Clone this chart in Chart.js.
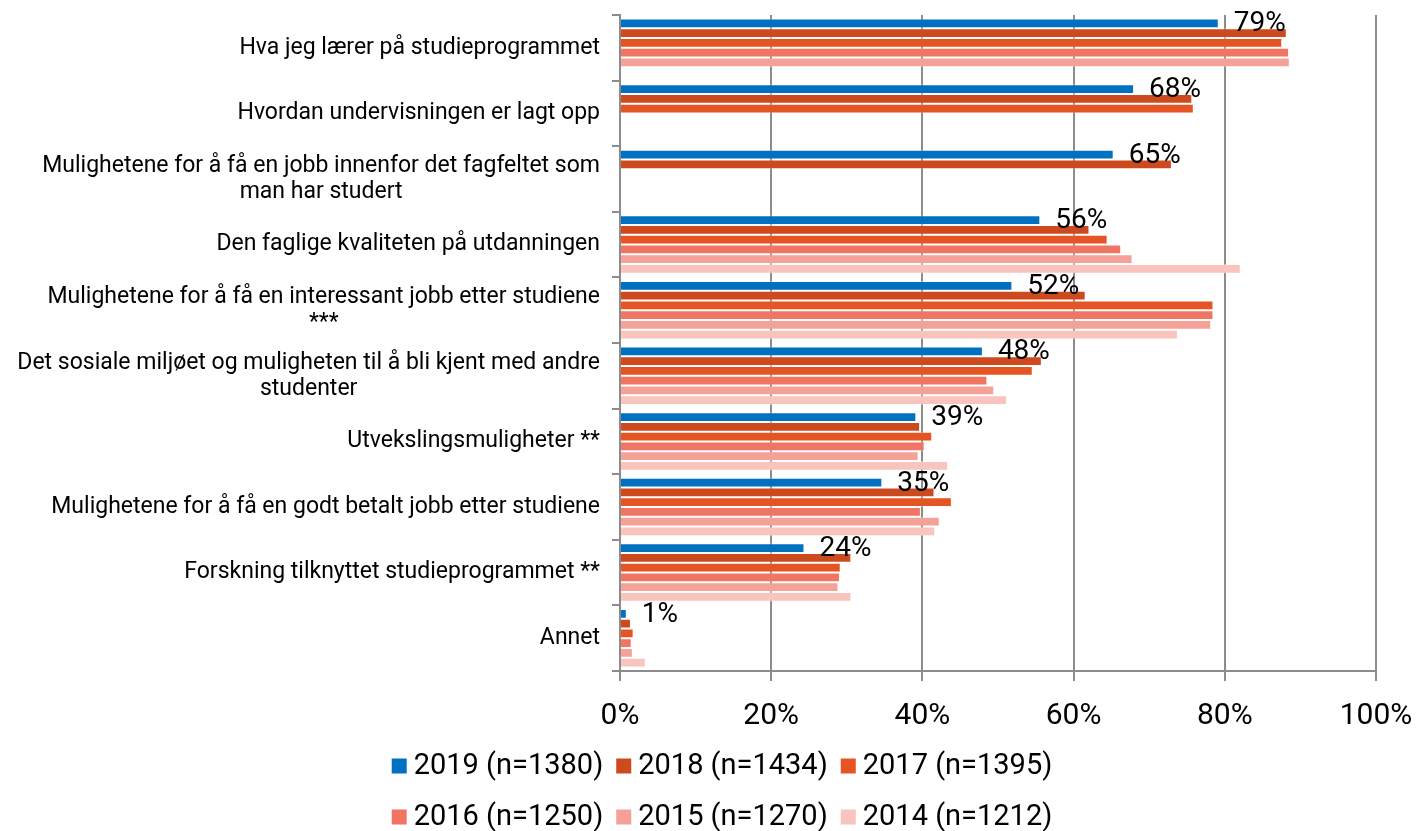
<!DOCTYPE html>
<html>
<head>
  <title>Hva er viktig for studentene</title>
  <script src="https://cdn.jsdelivr.net/npm/chart.js"></script>
  <style>
    body {
      margin: 0;
      background: #fff;
    }

    .chart-container {
      position: relative;
      width: 1418px;
      height: 831px;
    }
  </style>
</head>
<body>
  <div class="chart-container">
    <canvas id="studyChart"></canvas>
  </div>
  <script>
    // Categories (multi-line labels as arrays)
    const categories = [
      'Hva jeg lærer på studieprogrammet',
      'Hvordan undervisningen er lagt opp',
      ['Mulighetene for å få en jobb innenfor det fagfeltet som', 'man har studert'],
      'Den faglige kvaliteten på utdanningen',
      ['Mulighetene for å få en interessant jobb etter studiene', '***'],
      ['Det sosiale miljøet og muligheten til å bli kjent med andre', 'studenter'],
      'Utvekslingsmuligheter **',
      'Mulighetene for å få en godt betalt jobb etter studiene',
      'Forskning tilknyttet studieprogrammet **',
      'Annet'
    ];

    const seriesLabels = [
      '2019 (n=1380)', '2018 (n=1434)', '2017 (n=1395)',
      '2016 (n=1250)', '2015 (n=1270)', '2014 (n=1212)'
    ];

    // Values in percent (null = not asked that year)
    const v2019 = [79.2, 68.0, 65.3, 55.6, 51.9, 48.0, 39.2, 34.7, 24.4, 0.9];
    const v2018 = [88.2, 75.7, 73.0, 62.1, 61.6, 55.8, 39.7, 41.6, 30.6, 1.45];
    const v2017 = [87.6, 75.9, null, 64.5, 78.5, 54.6, 41.3, 43.9, 29.2, 1.8];
    const v2016 = [88.5, null, null, 66.3, 78.5, 48.6, 40.3, 39.8, 29.1, 1.55];
    const v2015 = [88.6, null, null, 67.8, 78.2, 49.5, 39.5, 42.3, 28.9, 1.7];
    const v2014 = [null, null, null, 82.1, 73.8, 51.2, 43.4, 41.7, 30.6, 3.4];

    const xTicks = [0, 20, 40, 60, 80, 100];

    const seriesColors = ['#0070c0', '#cd4a1f', '#e55423', '#f07663', '#f4a298', '#f8c4bd'];
    const gridColor = '#8c8c8c';
    const fontFamily = 'Roboto, "Liberation Sans", sans-serif';

    const allValues = [v2019, v2018, v2017, v2016, v2015, v2014];

    // Category labels: right-aligned block, lines centred within the block
    const categoryLabels = {
      id: 'categoryLabels',
      afterDraw(chart) {
        const ctx = chart.ctx;
        const yScale = chart.scales.y;
        ctx.save();
        ctx.font = '23px ' + fontFamily;
        ctx.fillStyle = '#000';
        ctx.textAlign = 'center';
        ctx.textBaseline = 'middle';
        categories.forEach((label, i) => {
          const lines = Array.isArray(label) ? label : [label];
          const w = Math.max(...lines.map(l => ctx.measureText(l).width));
          const cx = yScale.right - 20 - w / 2;
          const yc = yScale.getPixelForValue(i);
          const lh = 26;
          lines.forEach((l, k) => {
            ctx.fillText(l, cx, yc - (lines.length - 1) * lh / 2 + k * lh);
          });
        });
        ctx.restore();
      }
    };

    // Value labels for the 2019 series
    const valueLabels = {
      id: 'valueLabels',
      afterDatasetsDraw(chart) {
        const ctx = chart.ctx;
        const meta = chart.getDatasetMeta(0);
        ctx.save();
        ctx.font = '28px ' + fontFamily;
        ctx.fillStyle = '#000';
        ctx.textAlign = 'left';
        ctx.textBaseline = 'middle';
        meta.data.forEach((bar, i) => {
          ctx.fillText(Math.round(v2019[i]) + '%', bar.x + 15, bar.y + 1);
        });
        ctx.restore();
      }
    };

    // Legend in two rows of three
    const twoRowLegend = {
      id: 'twoRowLegend',
      afterDraw(chart) {
        const ctx = chart.ctx;
        ctx.save();
        ctx.font = '29px ' + fontFamily;
        ctx.textBaseline = 'middle';
        ctx.textAlign = 'left';
        const box = 15, gap = 7, spacing = 13;
        const rows = [[0, 1, 2], [3, 4, 5]];
        const rowY = [chart.height - 65, chart.height - 14];
        rows.forEach((row, r) => {
          const widths = row.map(i => box + gap + ctx.measureText(seriesLabels[i]).width);
          const total = widths.reduce((a, b) => a + b, 0) + spacing * (row.length - 1);
          let x = 722 - total / 2;
          row.forEach((i, k) => {
            ctx.fillStyle = seriesColors[i];
            ctx.fillRect(x, rowY[r] - box / 2, box, box);
            ctx.fillStyle = '#000';
            ctx.fillText(seriesLabels[i], x + box + gap, rowY[r] + 1);
            x += widths[k] + spacing;
          });
        });
        ctx.restore();
      }
    };

    function drawChart() {
      const ctx = document.getElementById('studyChart').getContext('2d');

      new Chart(ctx, {
        type: 'bar',
        data: {
          labels: categories,
          datasets: allValues.map((vals, i) => ({
            label: seriesLabels[i],
            data: vals,
            backgroundColor: seriesColors[i],
            borderColor: 'rgba(255,255,255,0.35)',
            borderWidth: 1,
            barPercentage: 1,
            categoryPercentage: 0.892
          }))
        },
        options: {
          indexAxis: 'y',
          responsive: true,
          maintainAspectRatio: false,
          animation: false,
          layout: {
            padding: { top: 15, right: 42, bottom: 80, left: 0 }
          },
          plugins: {
            legend: { display: false },
            tooltip: { enabled: false }
          },
          scales: {
            x: {
              type: 'linear',
              min: 0,
              max: 100,
              afterBuildTicks(scale) {
                scale.ticks = xTicks.map(v => ({ value: v }));
              },
              afterFit(scale) {
                scale.paddingLeft = 0;
                scale.paddingRight = 0;
              },
              ticks: {
                callback: v => v + '%',
                color: '#000',
                padding: 17,
                font: { family: fontFamily, size: 30 }
              },
              grid: { color: gridColor, lineWidth: 2, tickLength: 10 },
              border: { color: gridColor, width: 2 }
            },
            y: {
              ticks: { display: false },
              grid: {
                color: gridColor,
                lineWidth: 2,
                drawOnChartArea: false,
                tickLength: 8,
                offset: true
              },
              border: { color: gridColor, width: 2 },
              afterFit(scale) {
                scale.width = 620;
              }
            }
          }
        },
        plugins: [categoryLabels, valueLabels, twoRowLegend]
      });
    }

    drawChart();
  </script>
</body>
</html>
